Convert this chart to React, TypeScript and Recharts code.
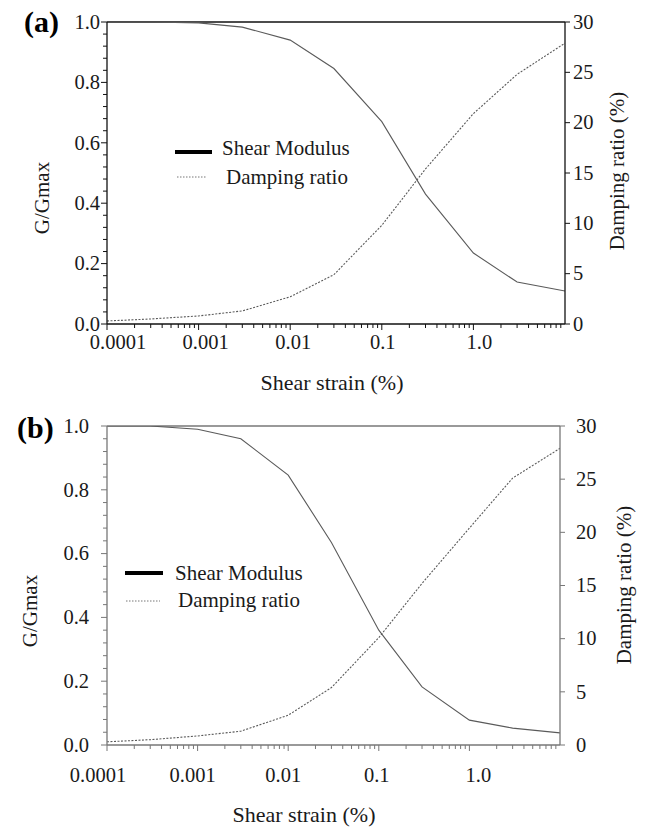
import React from 'react';
import { LineChart, Line, XAxis, YAxis, ReferenceLine, Legend } from 'recharts';

// ---------- data ----------
const strain = [0.0001, 0.0003, 0.001, 0.003, 0.01, 0.03, 0.1, 0.3, 1, 3, 10];
const modulusA = [1.0, 1.0, 0.997, 0.983, 0.94, 0.846, 0.67, 0.43, 0.235, 0.139, 0.109];
const dampingA = [0.3, 0.5, 0.8, 1.3, 2.7, 4.9, 9.8, 15.4, 20.9, 24.8, 27.9];
const modulusB = [1.0, 1.0, 0.99, 0.96, 0.846, 0.635, 0.36, 0.182, 0.078, 0.053, 0.038];
const dampingB = [0.3, 0.5, 0.85, 1.3, 2.8, 5.4, 10.1, 15.2, 20.4, 25.1, 27.9];

const majorStrainTicks = [0.0001, 0.001, 0.01, 0.1, 1];
const majorStrainLabels = ['0.0001', '0.001', '0.01', '0.1', '1.0'];
const minorMultipliers = [2, 3, 4, 5, 6, 7, 8, 9];
const ratioMajorTicks = [0, 0.2, 0.4, 0.6, 0.8, 1.0];
const ratioMajorLabels = ['0.0', '0.2', '0.4', '0.6', '0.8', '1.0'];
const ratioMinorCount = 25; // minor step 0.04
const dampingTicks = [0, 5, 10, 15, 20, 25, 30];
const dampingLabels = ['0', '5', '10', '15', '20', '25', '30'];

const seriesNames = ['Shear Modulus', 'Damping ratio'];
const xTitle = 'Shear strain (%)';
const yLeftTitle = 'G/Gmax';
const yRightTitle = 'Damping ratio (%)';

// ---------- derived tick lists ----------
const strainTicks = [
  ...majorStrainTicks,
  ...majorStrainTicks.flatMap((d) => minorMultipliers.map((m) => m * d)),
].sort((a, b) => a - b);
const ratioTicks = Array.from({ length: ratioMinorCount + 1 }, (_, k) => Math.round(k * 4) / 100);

const FONT = 'Liberation Serif';
const TEXT = '#1a1a1a';
const TS = { fontFamily: FONT };

function majorIndex(list: number[], v: number) {
  return list.findIndex((t) => Math.abs(t - v) <= Math.abs(t) * 1e-6 + 1e-9);
}

type Cfg = {
  top: number;
  height: number;
  margin: { top: number; right: number; bottom: number; left: number };
  axis: string;
  letter: string;
  letterX: number;
  letterY: number;
  yLeftX: number;
  yLeftY: number;
  yRightX: number;
  yRightY: number;
  xTitleX: number;
  xTitleY: number;
  leftGap: number;
  rightGap: number;
  xLabelDy: number;
  xLabelDx: number[];
  legendLeft: number;
  legendTop: number;
  leg: { l1y: number; l1x1: number; l1x2: number; t1x: number; t1y: number; l2y: number; l2x1: number; l2x2: number; t2x: number; t2y: number };
};

const cfgA: Cfg = {
  top: 0,
  height: 400,
  margin: { top: 22, right: 21, bottom: 26, left: 47 },
  axis: '#111',
  letter: '(a)',
  letterX: 24,
  letterY: 32,
  yLeftX: 49,
  yLeftY: 198,
  yRightX: 624,
  yRightY: 171,
  xTitleX: 332,
  xTitleY: 390,
  leftGap: 7,
  rightGap: 8,
  xLabelDy: 25,
  xLabelDx: [11, 7, 3, 1, 6],
  legendLeft: 170,
  legendTop: 130,
  leg: { l1y: 22, l1x1: 5, l1x2: 42, t1x: 52, t1y: 25, l2y: 47, l2x1: 7, l2x2: 37, t2x: 56, t2y: 54 },
};

const cfgB: Cfg = {
  top: 400,
  height: 428,
  margin: { top: 26, right: 26, bottom: 33, left: 47 },
  axis: '#777',
  letter: '(b)',
  letterX: 17,
  letterY: 38,
  yLeftX: 37,
  yLeftY: 211,
  yRightX: 631,
  yRightY: 185,
  xTitleX: 304,
  xTitleY: 422,
  leftGap: 18,
  rightGap: 16,
  xLabelDy: 37,
  xLabelDx: [-9, -5, -5, -2, 9],
  legendLeft: 120,
  legendTop: 150,
  leg: { l1y: 23, l1x1: 5, l1x2: 43, t1x: 55, t1y: 30, l2y: 51, l2x1: 6, l2x2: 40, t2x: 58, t2y: 57 },
};

function Panel({ cfg, modulus, damping }: { cfg: Cfg; modulus: number[]; damping: number[] }) {
  const data = strain.map((s, i) => ({ strain: s, modulus: modulus[i], damping: damping[i] }));
  const tickStroke = cfg.axis;

  const renderXTick = (p: any) => {
    const { x, y, payload } = p;
    const idx = majorIndex(majorStrainTicks, payload.value);
    const major = idx >= 0;
    return (
      <g>
        <line x1={x} x2={x} y1={y} y2={y + (major ? 6 : 4)} stroke={tickStroke} strokeWidth={1} />
        {major && (
          <text x={x + cfg.xLabelDx[idx]} y={y + cfg.xLabelDy} textAnchor="middle" style={TS} fontSize={20.5} fill={TEXT}>
            {majorStrainLabels[idx]}
          </text>
        )}
      </g>
    );
  };

  const renderLeftTick = (p: any) => {
    const { x, y, payload } = p;
    const idx = majorIndex(ratioMajorTicks, payload.value);
    const major = idx >= 0;
    return (
      <g>
        <line x1={x - (major ? 6 : 4)} x2={x} y1={y} y2={y} stroke={tickStroke} strokeWidth={1} />
        {major && (
          <text x={x - cfg.leftGap} y={y} dy="0.33em" textAnchor="end" style={TS} fontSize={20.5} fill={TEXT}>
            {ratioMajorLabels[idx]}
          </text>
        )}
      </g>
    );
  };

  const renderRightTick = (p: any) => {
    const { x, y, payload } = p;
    const idx = majorIndex(dampingTicks, payload.value);
    return (
      <g>
        <line x1={x} x2={x + 5} y1={y} y2={y} stroke={tickStroke} strokeWidth={1} />
        <text x={x + cfg.rightGap} y={y} dy="0.33em" textAnchor="start" style={TS} fontSize={20.5} fill={TEXT}>
          {dampingLabels[idx]}
        </text>
      </g>
    );
  };

  const xLabel = () => (
    <text x={cfg.xTitleX} y={cfg.xTitleY} textAnchor="middle" style={TS} fontSize={22} fill={TEXT}>
      {xTitle}
    </text>
  );

  const yLeftLabel = () => (
    <g>
      <text
        x={cfg.yLeftX}
        y={cfg.yLeftY}
        transform={`rotate(-90 ${cfg.yLeftX} ${cfg.yLeftY})`}
        textAnchor="middle"
        style={TS}
        fontSize={21}
        fill={TEXT}
      >
        {yLeftTitle}
      </text>
      <text x={cfg.letterX} y={cfg.letterY} style={TS} fontWeight="bold" fontSize={30} fill="#000">
        {cfg.letter}
      </text>
    </g>
  );

  const yRightLabel = () => (
    <text
      x={cfg.yRightX}
      y={cfg.yRightY}
      transform={`rotate(-90 ${cfg.yRightX} ${cfg.yRightY})`}
      textAnchor="middle"
      style={TS}
      fontSize={21}
      fill={TEXT}
    >
      {yRightTitle}
    </text>
  );

  const L = cfg.leg;
  const legendContent = () => (
    <svg width={260} height={70} style={{ overflow: 'visible', display: 'block' }}>
      <line x1={L.l1x1} x2={L.l1x2} y1={L.l1y} y2={L.l1y} stroke="#000" strokeWidth={4} />
      <text x={L.t1x} y={L.t1y} style={TS} fontSize={21} fill={TEXT}>
        {seriesNames[0]}
      </text>
      <line x1={L.l2x1} x2={L.l2x2} y1={L.l2y} y2={L.l2y} stroke="#777" strokeWidth={1} strokeDasharray="1.5 1.5" />
      <text x={L.t2x} y={L.t2y} style={TS} fontSize={21} fill={TEXT}>
        {seriesNames[1]}
      </text>
    </svg>
  );

  return (
    <div style={{ position: 'absolute', left: 0, top: cfg.top, width: 646, height: cfg.height, fontFamily: FONT }}>
      <LineChart width={646} height={cfg.height} data={data} margin={cfg.margin} style={{ fontFamily: FONT }}>
        <XAxis
          dataKey="strain"
          type="number"
          scale="log"
          domain={[0.0001, 10]}
          allowDataOverflow
          ticks={strainTicks}
          interval={0}
          tickSize={0}
          tickMargin={0}
          tickLine={false}
          axisLine={{ stroke: cfg.axis, strokeWidth: 1.3 }}
          height={50}
          tick={renderXTick}
          label={xLabel}
        />
        <YAxis
          yAxisId="left"
          type="number"
          domain={[0, 1]}
          allowDataOverflow
          ticks={ratioTicks}
          interval={0}
          tickSize={0}
          tickMargin={0}
          tickLine={false}
          axisLine={{ stroke: cfg.axis, strokeWidth: 1.3 }}
          width={60}
          tick={renderLeftTick}
          label={yLeftLabel}
        />
        <YAxis
          yAxisId="right"
          orientation="right"
          type="number"
          domain={[0, 30]}
          allowDataOverflow
          ticks={dampingTicks}
          interval={0}
          tickSize={0}
          tickMargin={0}
          tickLine={false}
          axisLine={{ stroke: cfg.axis, strokeWidth: 1.3 }}
          width={60}
          tick={renderRightTick}
          label={yRightLabel}
        />
        <ReferenceLine yAxisId="left" y={1} stroke={cfg.axis} strokeWidth={1.3} ifOverflow="visible" />
        <Legend
          layout="horizontal"
          verticalAlign="middle"
          align="center"
          content={legendContent}
          wrapperStyle={{ left: cfg.legendLeft, top: cfg.legendTop, width: 260, height: 70 }}
        />
        <Line
          yAxisId="left"
          dataKey="modulus"
          name={seriesNames[0]}
          type="linear"
          stroke="#5a5a5a"
          strokeWidth={1.1}
          dot={false}
          activeDot={false}
          isAnimationActive={false}
        />
        <Line
          yAxisId="right"
          dataKey="damping"
          name={seriesNames[1]}
          type="linear"
          stroke="#5a5a5a"
          strokeWidth={1.1}
          strokeDasharray="2 1.5"
          dot={false}
          activeDot={false}
          isAnimationActive={false}
        />
      </LineChart>
    </div>
  );
}

export default function App() {
  return (
    <div style={{ position: 'absolute', left: 0, top: 0, width: 646, height: 828, background: '#fff', fontFamily: FONT }}>
      <Panel cfg={cfgA} modulus={modulusA} damping={dampingA} />
      <Panel cfg={cfgB} modulus={modulusB} damping={dampingB} />
    </div>
  );
}
